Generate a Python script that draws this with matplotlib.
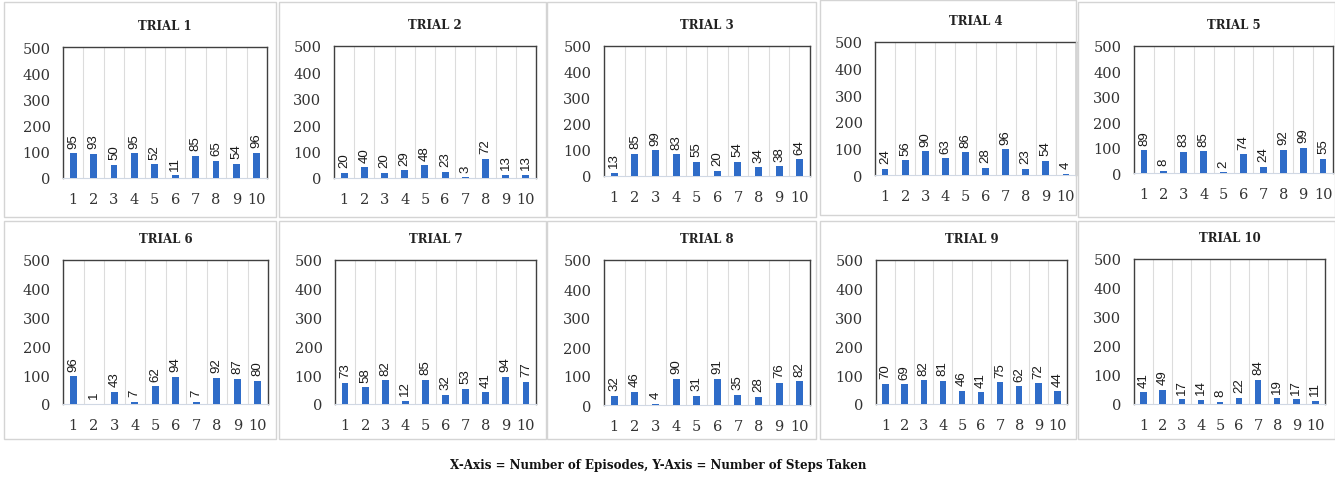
"""
Passos por episodio em 10 trials: um grafico de barras pequeno por trial,
em grade 2x5, com o valor escrito acima de cada barra.
"""
import matplotlib.pyplot as plt
from matplotlib.patches import Rectangle

W, H = 1335, 481

EPISODES = list(range(1, 11))
TRIAL_1 = [95, 93, 50, 95, 52, 11, 85, 65, 54, 96]
TRIAL_2 = [20, 40, 20, 29, 48, 23, 3, 72, 13, 13]
TRIAL_3 = [13, 85, 99, 83, 55, 20, 54, 34, 38, 64]
TRIAL_4 = [24, 56, 90, 63, 86, 28, 96, 23, 54, 4]
TRIAL_5 = [89, 8, 83, 85, 2, 74, 24, 92, 99, 55]
TRIAL_6 = [96, 1, 43, 7, 62, 94, 7, 92, 87, 80]
TRIAL_7 = [73, 58, 82, 12, 85, 32, 53, 41, 94, 77]
TRIAL_8 = [32, 46, 4, 90, 31, 91, 35, 28, 76, 82]
TRIAL_9 = [70, 69, 82, 81, 46, 41, 75, 62, 72, 44]
TRIAL_10 = [41, 49, 17, 14, 8, 22, 84, 19, 17, 11]
TRIALS = [TRIAL_1, TRIAL_2, TRIAL_3, TRIAL_4, TRIAL_5,
          TRIAL_6, TRIAL_7, TRIAL_8, TRIAL_9, TRIAL_10]
TITLES = [f'TRIAL {i}' for i in range(1, 11)]
YTICKS = [0, 100, 200, 300, 400, 500]

# caixa de cada painel (x0, y0, x1, y1) e area do grafico, em pixels
PANELS = [(4, 3, 276, 218), (279, 3, 546, 218), (547, 3, 816, 218),
          (820, 1, 1076, 216), (1078, 3, 1335, 218),
          (4, 222, 276, 440), (279, 222, 546, 440), (547, 222, 816, 440),
          (820, 222, 1076, 440), (1078, 222, 1335, 440)]
AXES = [(63, 48, 267, 179), (334, 47, 536, 179), (604, 47, 810, 177),
        (875, 43, 1076, 176), (1134, 47, 1333, 174),
        (63, 261, 268, 405), (335, 261, 536, 405), (604, 261, 810, 406),
        (876, 261, 1067, 405), (1134, 260, 1325, 405)]

BAR_COLOR = '#2f6cc8'
SERIF = 'DejaVu Serif'


def draw_trial(fig, values, title, box):
    x0, y0, x1, y1 = box
    ax = fig.add_axes([x0 / W, 1 - y1 / H, (x1 - x0) / W, (y1 - y0) / H])
    ax.bar(EPISODES, values, width=0.34, color=BAR_COLOR, zorder=3)
    for x, v in zip(EPISODES, values):
        ax.annotate(str(v), (x, v), xytext=(0, 4), textcoords='offset points',
                    rotation=90, ha='center', va='bottom', fontsize=9.5,
                    family='Liberation Sans', color='#1a1a1a')
    ax.set_xlim(0.5, 10.5)
    ax.set_ylim(0, 500)
    ax.set_yticks(YTICKS)
    ax.set_xticks(EPISODES)
    ax.tick_params(length=0, labelsize=10.5, colors='#333333')
    ax.tick_params(axis='y', pad=9)
    ax.tick_params(axis='x', pad=10)
    for lab in ax.get_xticklabels() + ax.get_yticklabels():
        lab.set_family(SERIF)
    ax.set_xticks([i + 0.5 for i in range(10)], minor=True)
    ax.tick_params(which='minor', length=0)
    ax.grid(axis='x', which='minor', color='#dcdcdc', linewidth=0.8, zorder=0)
    for side in ('left', 'top', 'right'):
        ax.spines[side].set_color('#404040')
        ax.spines[side].set_linewidth(1.0)
    ax.spines['bottom'].set_color('#d0d8e4')
    # titulo fica bem acima da area do grafico
    ax.text(0.5, 1.0 + 15 / (y1 - y0), title, transform=ax.transAxes,
            ha='center', va='bottom', fontsize=8.5, fontweight='bold',
            family=SERIF, color='#222222')
    return ax


def main():
    fig = plt.figure(figsize=(W / 100, H / 100), dpi=100)
    fig.patch.set_facecolor('white')

    for (px0, py0, px1, py1) in PANELS:
        fig.patches.append(Rectangle((px0 / W, 1 - py1 / H),
                                     (px1 - px0) / W, (py1 - py0) / H,
                                     transform=fig.transFigure, fill=False,
                                     edgecolor='#d4d4d4', linewidth=1.0))

    for values, title, box in zip(TRIALS, TITLES, AXES):
        draw_trial(fig, values, title, box)

    fig.text(658 / W, 1 - 466 / H,
             'X-Axis = Number of Episodes, Y-Axis = Number of Steps Taken',
             ha='center', va='center', fontsize=8.6, fontweight='bold',
             family=SERIF, color='#111111')

    fig.savefig('out.png', dpi=100)


if __name__ == '__main__':
    main()
